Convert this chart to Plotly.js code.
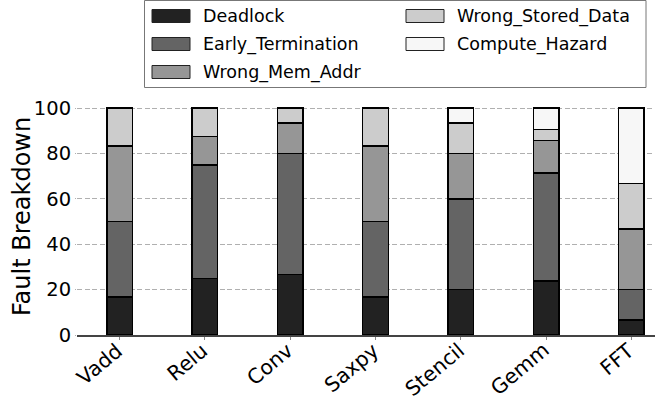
<!DOCTYPE html>
<html>
<head>
<meta charset="utf-8">
<script src="https://cdn.plot.ly/plotly-3.0.1.min.js"></script>
<style>
  html, body { margin: 0; padding: 0; overflow: hidden; background: #fff; }
  #chart { width: 674px; height: 402px; }
</style>
</head>
<body>
<div id="chart"></div>
<script>
// Fault breakdown (%) per benchmark
const benchmarks = ['Vadd', 'Relu', 'Conv', 'Saxpy', 'Stencil', 'Gemm', 'FFT'];
const deadlock         = [16.7, 25.0, 26.7, 16.7, 20.0, 23.8,  6.7];
const earlyTermination = [33.3, 50.0, 53.3, 33.3, 40.0, 47.6, 13.3];
const wrongMemAddr     = [33.3, 12.5, 13.3, 33.3, 20.0, 14.3, 26.7];
const wrongStoredData  = [16.7, 12.5,  6.7, 16.7, 13.3,  4.8, 20.0];
const computeHazard    = [ 0.0,  0.0,  0.0,  0.0,  6.7,  9.5, 33.3];

const seriesNames = ['Deadlock', 'Early_Termination', 'Wrong_Mem_Addr', 'Wrong_Stored_Data', 'Compute_Hazard'];
const seriesValues = [deadlock, earlyTermination, wrongMemAddr, wrongStoredData, computeHazard];
const seriesColors = ['#222222', '#646464', '#969696', '#cccccc', '#f7f7f7'];

const yTicks = [0, 20, 40, 60, 80, 100];
const yTitle = 'Fault Breakdown';

const FONT = 'DejaVu Sans, sans-serif';
const W = 674, H = 402;
const M = { l: 77, r: 0, t: 106, b: 67 };
const plotW = W - M.l - M.r, plotH = H - M.t - M.b;

// pixel -> paper coordinate helpers for the hand-built legend and labels
const px = x => (x - M.l) / plotW;
const py = y => (H - M.b - y) / plotH;

const traces = seriesNames.map((name, i) => ({
  type: 'bar',
  name: name,
  x: benchmarks,
  y: seriesValues[i],
  width: 0.3,
  marker: { color: seriesColors[i], line: { color: '#000', width: 1.5 } },
  showlegend: false,
  hoverinfo: 'x+y+name'
}));

const shapes = [];
const annotations = [];

// Legend: two columns, filled top to bottom
shapes.push({
  type: 'rect', xref: 'paper', yref: 'paper',
  x0: px(144.5), x1: px(646), y0: py(0.5), y1: py(87.5),
  line: { color: '#777', width: 1 }, fillcolor: '#fff', layer: 'above'
});
const colX = [{ patch: 152, text: 202 }, { patch: 406, text: 456 }];
const rowY = [16, 44, 72];
seriesNames.forEach((name, i) => {
  const col = i < 3 ? 0 : 1;
  const row = i < 3 ? i : i - 3;
  const cy = rowY[row];
  shapes.push({
    type: 'rect', xref: 'paper', yref: 'paper',
    x0: px(colX[col].patch), x1: px(colX[col].patch + 38),
    y0: py(cy - 6.5), y1: py(cy + 6.5),
    fillcolor: seriesColors[i], line: { color: '#222', width: 1 }, layer: 'above'
  });
  annotations.push({
    xref: 'paper', yref: 'paper',
    x: px(colX[col].text), y: py(cy),
    xanchor: 'left', yanchor: 'middle', borderpad: 0,
    text: name, showarrow: false,
    font: { family: FONT, size: 17.5, color: '#000' }
  });
});

// Rotated category labels under each bar
benchmarks.forEach(name => {
  annotations.push({
    xref: 'x', yref: 'paper',
    x: name, y: py(337),
    xanchor: 'right', yanchor: 'top', xshift: 9, borderpad: 0,
    textangle: -40,
    text: name, showarrow: false,
    font: { family: FONT, size: 20.5, color: '#000' }
  });
});

// Vertical y-axis title
annotations.push({
  xref: 'paper', yref: 'paper',
  x: px(22), y: py(217),
  xanchor: 'center', yanchor: 'middle', borderpad: 0,
  textangle: -90,
  text: yTitle, showarrow: false,
  font: { family: FONT, size: 24, color: '#000' }
});

const layout = {
  width: W, height: H,
  margin: M,
  paper_bgcolor: '#fff',
  plot_bgcolor: '#fff',
  barmode: 'stack',
  showlegend: false,
  font: { family: FONT, color: '#000' },
  xaxis: {
    type: 'category',
    range: [-0.5, 6.5],
    showticklabels: false,
    ticks: 'outside', ticklen: 3.5, tickcolor: '#888', tickwidth: 1,
    showline: true, linecolor: '#444', linewidth: 1.5,
    showgrid: false, zeroline: false, fixedrange: true
  },
  yaxis: {
    range: [0, plotH / 2.27],
    tickvals: yTicks,
    ticktext: yTicks.map(String),
    tickfont: { family: FONT, size: 19.5, color: '#000' },
    ticks: 'outside', ticklen: 1, tickcolor: '#b0b0b0', tickwidth: 1,
    showgrid: true, gridcolor: '#b0b0b0', gridwidth: 1, griddash: '5px,2.5px',
    showline: false, zeroline: false, fixedrange: true
  },
  shapes: shapes,
  annotations: annotations
};

Plotly.newPlot('chart', traces, layout, { displayModeBar: false, staticPlot: true });
</script>
</body>
</html>
